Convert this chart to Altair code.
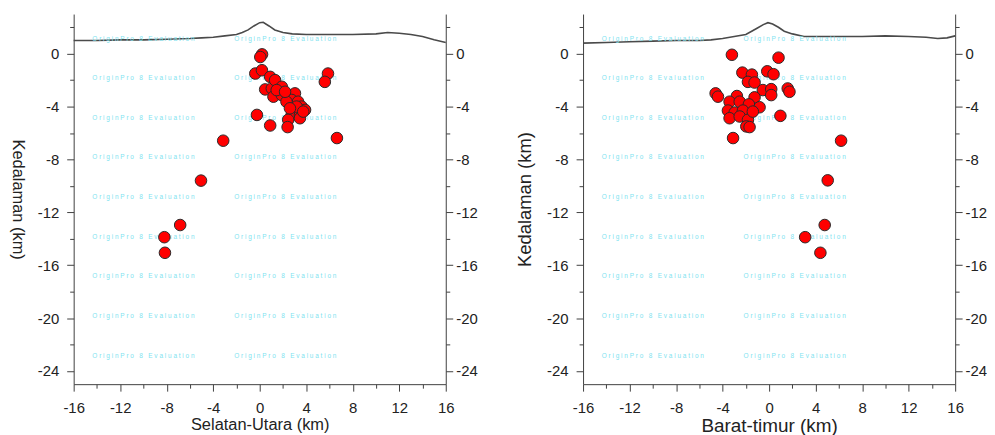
import altair as alt
import pandas as pd

# ---- topography profiles (km) ----
topo_ns_x = [-16, -14, -12, -10, -8, -6, -5, -4, -3, -2, -1.5, -1, -0.5, 0, 0.3, 0.8, 1.3, 2, 2.8, 4, 6, 8, 10, 11, 12, 13, 14, 15, 16]
topo_ns_z = [1.0, 1.0, 1.05, 1.05, 1.1, 1.15, 1.2, 1.25, 1.35, 1.45, 1.6, 1.8, 2.1, 2.35, 2.38, 2.1, 1.8, 1.6, 1.5, 1.45, 1.45, 1.45, 1.5, 1.6, 1.55, 1.45, 1.3, 1.05, 0.85]

topo_ew_x = [-16, -14, -12, -10, -8, -6, -5, -4, -3, -2, -1.5, -1, -0.5, -0.1, 0.3, 0.8, 1.3, 2, 3, 4, 6, 8, 10, 12, 13.5, 14.5, 15.3, 16]
topo_ew_z = [0.8, 0.85, 0.9, 0.95, 1.0, 1.0, 1.05, 1.15, 1.3, 1.45, 1.7, 1.95, 2.2, 2.35, 2.25, 2.0, 1.7, 1.5, 1.3, 1.3, 1.3, 1.3, 1.35, 1.3, 1.25, 1.15, 1.2, 1.35]

# ---- hypocentres: South-North section ----
ns_x = [0.2, 0.05, -0.38, 0.19, 0.9, 0.47, 1.04, 1.32, 1.9, 1.18, 1.9, 2.45, 3.03, 2.75, 3.3, 2.3,
        3.6, 2.9, 3.9, 2.75, 3.46, 2.45, 3.46, -0.24, 0.9, 2.4, 5.87, 5.6, 6.64, -3.14, -5.05,
        -6.84, -8.2, -8.15, 1.46, 2.18, 3.17, 3.74, 2.6]
ns_depth = [-0.05, -0.25, -1.5, -1.25, -1.75, -2.7, -2.63, -2.0, -2.5, -3.25, -3.13, -3.13, -3.0, -3.5, -3.63, -3.63,
            -4.0, -4.25, -4.25, -4.63, -4.63, -5.0, -4.88, -4.63, -5.43, -5.55, -1.5, -2.13, -6.38, -6.58, -9.6,
            -12.96, -13.88, -15.06, -2.75, -2.88, -4.0, -4.38, -4.13]

# ---- hypocentres: West-East section ----
ew_x = [-3.2, 0.81, -2.3, -1.48, -0.16, 0.38, -1.82, -1.25, -0.54, 0.18, 0.18, 1.6, 1.75, -4.6, -4.4, -2.77,
        -1.25, -3.4, -2.53, -1.74, -0.82, -3.54, -2.96, -2.25, -3.4, -2.53, -1.82, 0.97, -1.96, -1.68, -3.1,
        -1.4, 6.19, 5.04, 4.78, 3.1, 4.41]
ew_depth = [-0.08, -0.3, -1.43, -1.58, -1.33, -1.55, -2.13, -2.18, -2.75, -2.68, -3.13, -2.63, -2.88, -3.0, -3.25, -3.2,
            -3.3, -3.63, -3.63, -3.83, -4.05, -4.3, -4.45, -4.3, -4.88, -4.75, -5.0, -4.7, -5.5, -5.55, -6.38,
            -4.38, -6.58, -9.58, -12.96, -13.88, -15.06]

# ---- watermark grid ----
wm_x = [-10.0, 2.2]
wm_y = [1.15, -1.85, -4.85, -7.85, -10.85, -13.85, -16.85, -19.85, -22.85]
wm_text = "\u00a0".join("OriginPro") + "\u00a0\u00a0\u00a08\u00a0\u00a0\u00a0" + "\u00a0".join("Evaluation")

x_ticks = list(range(-16, 17, 2))
y_ticks = list(range(-24, 3, 2))

FONT = "Liberation Sans"
AXC = "#404040"
TXT = "#222222"
MAJOR = "datum.value % 4 === 0"
LBL = "datum.value % 4 === 0 ? toString(datum.value) : ''"
TICK = {"condition": {"test": MAJOR, "value": 7}, "value": 4}

xscale = alt.Scale(domain=[-16, 16], nice=False, zero=False)
yscale = alt.Scale(domain=[-25, 3], nice=False, zero=False)


def axis_common(isx=False, **kw):
    return dict(values=x_ticks if isx else y_ticks, labelExpr=LBL, tickSize=TICK,
                tickColor=AXC, domainColor=AXC, labelColor=TXT, labelFont=FONT, grid=False,
                labelFlush=False, labelOverlap=False, labelBound=False, tickWidth=1, domainWidth=1, **kw)


def panel(tx, tz, px, pz, xtitle, lab_size, xt_size, yt_size, yt_angle, yt_base, yt_pad):
    topo = pd.DataFrame({"x": tx, "z": tz})
    pts = pd.DataFrame({"x": px, "z": pz})
    wm = pd.DataFrame([{"x": a, "z": b, "t": wm_text} for b in wm_y for a in wm_x])

    xenc = alt.X("x:Q", scale=xscale, axis=alt.Axis(
        **axis_common(isx=True, orient="bottom", labelFontSize=lab_size, labelPadding=9,
                      title=xtitle, titleFont=FONT, titleFontSize=xt_size, titleFontWeight="normal",
                      titleColor=TXT, titlePadding=2)))

    left_axis = alt.Axis(**axis_common(orient="left", labelFontSize=lab_size, labelPadding=8,
                                       title="Kedalaman (km)", titleFont=FONT, titleFontSize=yt_size,
                                       titleFontWeight="normal", titleColor=TXT, titleAngle=yt_angle,
                                       titleBaseline=yt_base, titlePadding=yt_pad))
    right_axis = alt.Axis(**axis_common(orient="right", labelFontSize=lab_size, labelPadding=3, title=None))

    line = alt.Chart(topo).mark_line(color="#4a4a4a", strokeWidth=1.6).encode(
        x=xenc, y=alt.Y("z:Q", scale=yscale, axis=left_axis), order="x:Q")
    text = alt.Chart(wm).mark_text(font=FONT, fontSize=6.5, color="#7fe3f0", align="center",
                                   baseline="middle").encode(
        x=xenc, y=alt.Y("z:Q", scale=yscale, axis=None), text="t:N")
    dots = alt.Chart(pts).mark_point(shape="circle", filled=True, fill="#ff0000", stroke="#2a2a2a",
                                     strokeWidth=1, size=135, opacity=1).encode(
        x=xenc, y=alt.Y("z:Q", scale=yscale, axis=right_axis))
    return alt.layer(line, text, dots).resolve_axis(y="independent").properties(width=374, height=372)


left = panel(topo_ns_x, topo_ns_z, ns_x, ns_depth, "Selatan-Utara (km)", 15, 16.5, 16.5, 90, "top", 12)
right = panel(topo_ew_x, topo_ew_z, ew_x, ew_depth, "Barat-timur (km)", 15, 19, 18.5, 270, "bottom", 12)

chart = alt.hconcat(left, right, spacing=38).properties(
    padding={"left": 0, "top": 5, "right": 0, "bottom": 0}
).configure_view(strokeWidth=0)

chart.save("out.html", embed_options={"renderer": "svg", "actions": False})
